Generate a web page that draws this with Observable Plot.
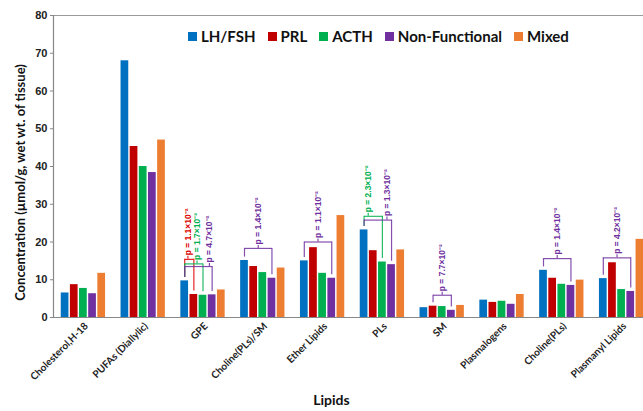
<!DOCTYPE html>
<html><head><meta charset="utf-8">
<script src="https://cdn.jsdelivr.net/npm/d3@7"></script>
<script src="https://cdn.jsdelivr.net/npm/@observablehq/plot@0.6"></script>
<style>
html,body{margin:0;padding:0;background:#fff;overflow:hidden;}
#wrap{position:relative;width:643px;height:411px;overflow:hidden;}
#chart{width:651px;}
#legend{position:absolute;left:188px;top:27px;}
#legend .lg-swatches-wrap{min-height:0 !important;margin:0 !important;font-family:Lato,sans-serif !important;font-size:15px !important;font-weight:bold !important;color:#111 !important;line-height:18px;flex-wrap:nowrap !important;}
#legend .lg-swatch{margin-right:12px !important;}
#legend .lg-swatch > svg{margin-right:4px !important;}
</style></head><body><div id="wrap"><div id="chart"></div><div id="legend"></div></div>
<script>
const categories = ["Cholesterol,H-18","PUFAs (Diallylic)","GPE","Choline(PLs)/SM","Ether Lipids","PLs","SM","Plasmalogens","Choline(PLs)","Plasmanyl Lipids"];
const seriesNames = ["LH/FSH","PRL","ACTH","Non-Functional","Mixed"];
const seriesColors = ["#0070C0","#C00000","#00B050","#7030A0","#ED7D31"];
const lhFsh        = [6.5, 68.0, 9.7, 15.1, 15.0, 23.2, 2.6, 4.6, 12.5, 10.3];
const prl          = [8.7, 45.3, 6.1, 13.5, 18.5, 17.7, 3.0, 4.0, 10.4, 14.5];
const acth         = [7.7, 40.0, 5.9, 11.9, 11.7, 14.7, 2.9, 4.3, 8.8, 7.4];
const nonFunctional= [6.3, 38.4, 6.0, 10.4, 10.4, 14.0, 1.9, 3.5, 8.5, 6.9];
const mixed        = [11.7, 47.0, 7.3, 13.1, 27.0, 17.9, 3.2, 6.1, 9.9, 20.7];
const yTicks = [0,10,20,30,40,50,60,70,80];

// p-value annotations
const annCategory = ["GPE","GPE","GPE","Choline(PLs)/SM","Ether Lipids","PLs","PLs","SM","Choline(PLs)","Plasmanyl Lipids"];
const annFrom = ["LH/FSH","LH/FSH","LH/FSH","LH/FSH","LH/FSH","LH/FSH","LH/FSH","PRL","LH/FSH","LH/FSH"];
const annTo = ["PRL","ACTH","Non-Functional","Non-Functional","Non-Functional","ACTH","Non-Functional","Non-Functional","Non-Functional","Non-Functional"];
const annTop = [15.4, 14.2, 13.5, 18.3, 20.0, 26.8, 25.8, 5.9, 15.6, 15.8];
const annStemSeries = [0.35, 1.35, 2.7, 1.5, 1.5, 0.45, 2.5, 2, 1.5, 1.5];
const annText = ["p = 1.1×10⁻²","p = 1.7×10⁻²","p = 4.7×10⁻²","p = 1.4×10⁻²","p = 1.1×10⁻²","p = 2.3×10⁻²","p = 1.3×10⁻²","p = 7.7×10⁻²","p = 1.4×10⁻²","p = 4.2×10⁻²"];
const annColor = ["#E00000","#00B050","#7030A0","#7030A0","#7030A0","#00B050","#7030A0","#7030A0","#7030A0","#7030A0"];

const values = [lhFsh, prl, acth, nonFunctional, mixed];
const barStep = 0.153, barWidth = 0.129, legGap = 0.9, stemLen = 0.8;
const pos = (gi, si) => gi + (si - 2) * barStep;

const bars = categories.flatMap((c, gi) => seriesNames.map((s, si) => ({category: c, series: s, value: values[si][gi], x: pos(gi, si)})));

const anns = annCategory.map((c, i) => {
  const gi = categories.indexOf(c), fi = seriesNames.indexOf(annFrom[i]), ti = seriesNames.indexOf(annTo[i]);
  return {x1: pos(gi, fi), x2: pos(gi, ti), top: annTop[i], b1: values[fi][gi] + legGap, b2: values[ti][gi] + legGap,
          xs: pos(gi, annStemSeries[i]), text: annText[i], color: annColor[i]};
});

const annMarks = anns.flatMap(a => [
  Plot.link([a], {x1: "x1", x2: "x2", y1: "top", y2: "top", stroke: a.color, strokeWidth: 1.2, strokeOpacity: 0.85}),
  Plot.ruleX([{x: a.x1, b: a.b1, t: a.top}, {x: a.x2, b: a.b2, t: a.top}], {x: "x", y1: "t", y2: "b", stroke: a.color, strokeWidth: 1.2, strokeOpacity: 0.85}),
  Plot.ruleX([a], {x: "xs", y1: "top", y2: d => d.top + stemLen, stroke: a.color, strokeWidth: 1.2, strokeOpacity: 0.85}),
  Plot.text([a], {x: "xs", y: "top", text: "text", rotate: -90, textAnchor: "start", lineAnchor: "middle", dy: -4, fill: a.color, fontSize: 8.5, fontWeight: "bold", fontFamily: "Liberation Sans"})
]);

const plot = Plot.plot({
  width: 651, height: 411,
  marginLeft: 53, marginRight: 0, marginTop: 15, marginBottom: 94,
  style: {maxWidth: "none", background: "white"},
  x: {domain: [-0.5, 9.5], axis: null},
  y: {domain: [0, 80], axis: null},
  color: {domain: seriesNames, range: seriesColors},
  marks: [
    Plot.ruleY([80], {stroke: "#999", strokeWidth: 1.2}),
    Plot.rectY(bars, {x1: d => d.x - barWidth / 2, x2: d => d.x + barWidth / 2, y1: 0, y2: "value", fill: "series"}),
    Plot.ruleY([0], {stroke: "#888", strokeWidth: 1.2}),
    Plot.ruleX([-0.5], {y1: 0, y2: 80, stroke: "#888", strokeWidth: 1.2}),
    Plot.axisY({ticks: yTicks, tickSize: 3, tickPadding: 3, fontSize: 11, fontWeight: "bold", fontFamily: "Liberation Sans", stroke: "#888", fill: "#222", label: null}),
    Plot.axisX({ticks: categories.map((c, i) => i), tickFormat: i => categories[i], tickRotate: -45, tickSize: 0, tickPadding: 7, dx: 3, fontSize: 10, fontWeight: "bold", fontFamily: "Lato", fill: "#222", label: null}),
    ...annMarks,
    Plot.text(["Concentration (µmol/g, wet wt. of tissue)"], {frameAnchor: "left", textAnchor: "middle", rotate: -90, dx: -33, dy: 16, fontSize: 13, fontWeight: "bold", fontFamily: "Lato", fill: "#111"}),
    Plot.text(["Lipids"], {frameAnchor: "bottom", textAnchor: "middle", dx: -21, dy: 87, fontSize: 14, fontWeight: "bold", fontFamily: "Lato", fill: "#111"})
  ]
});
document.getElementById("chart").appendChild(plot);
const leg = plot.legend("color", {legend: "swatches", swatchSize: 9, className: "lg"});
document.getElementById("legend").appendChild(leg);
</script></body></html>
